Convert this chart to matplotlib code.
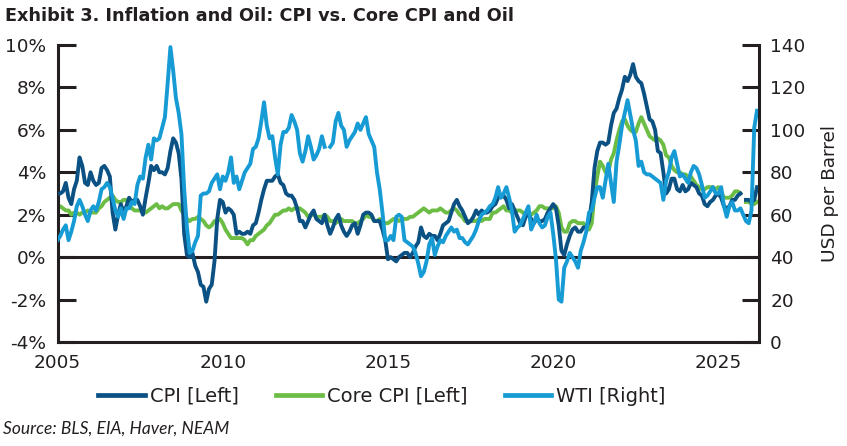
import numpy as np
import matplotlib
matplotlib.use("Agg")
import matplotlib.pyplot as plt
from matplotlib.lines import Line2D

nan = np.nan

# monthly observations, Jan 2005 .. Mar 2026
start_year = 2005

cpi = [
    3.0, 3.0, 3.1, 3.5, 2.8, 2.5, 3.2, 3.6, 4.7, 4.3, 3.5, 3.4,   # 2005
    4.0, 3.6, 3.4, 3.5, 4.2, 4.3, 4.1, 3.8, 2.1, 1.3, 2.0, 2.5,   # 2006
    2.1, 2.4, 2.8, 2.6, 2.7, 2.7, 2.4, 2.0, 2.8, 3.5, 4.3, 4.1,   # 2007
    4.3, 4.0, 4.0, 3.9, 4.2, 5.0, 5.6, 5.4, 4.9, 3.7, 1.1, 0.1,   # 2008
    0.0, 0.2, -0.4, -0.7, -1.3, -1.4, -2.1, -1.5, -1.3, -0.2, 1.8, 2.7,  # 2009
    2.6, 2.1, 2.3, 2.2, 2.0, 1.1, 1.2, 1.1, 1.1, 1.2, 1.1, 1.5,   # 2010
    1.6, 2.1, 2.7, 3.2, 3.6, 3.6, 3.6, 3.8, 3.9, 3.5, 3.4, 3.0,   # 2011
    2.9, 2.9, 2.7, 2.3, 1.7, 1.7, 1.4, 1.7, 2.0, 2.2, 1.8, 1.7,   # 2012
    1.6, 2.0, 1.5, 1.1, 1.4, 1.8, 2.0, 1.5, 1.2, 1.0, 1.2, 1.5,   # 2013
    1.6, 1.1, 1.5, 2.0, 2.1, 2.1, 2.0, 1.7, 1.7, 1.7, 1.3, 0.8,   # 2014
    -0.1, 0.0, -0.1, -0.2, 0.0, 0.1, 0.2, 0.2, 0.0, 0.2, 0.5, 0.7,  # 2015
    1.4, 1.0, 0.9, 1.1, 1.0, 1.0, 0.8, 1.1, 1.5, 1.6, 1.7, 2.1,   # 2016
    2.5, 2.7, 2.4, 2.2, 1.9, 1.6, 1.7, 1.9, 2.2, 2.0, 2.2, 2.1,   # 2017
    2.1, 2.2, 2.4, 2.5, 2.8, 2.9, 2.9, 2.7, 2.3, 2.5, 2.2, 1.9,   # 2018
    1.6, 1.5, 1.9, 2.0, 1.8, 1.6, 1.8, 1.7, 1.7, 1.8, 2.1, 2.3,   # 2019
    2.5, 2.3, 1.5, 0.3, 0.1, 0.6, 1.0, 1.3, 1.4, 1.2, 1.2, 1.4,   # 2020
    1.4, 1.7, 2.6, 4.2, 5.0, 5.4, 5.4, 5.3, 5.4, 6.2, 6.8, 7.0,   # 2021
    7.5, 7.9, 8.5, 8.3, 8.6, 9.1, 8.5, 8.3, 8.2, 7.7, 7.1, 6.5,   # 2022
    6.4, 6.0, 5.0, 4.9, 4.0, 3.0, 3.2, 3.7, 3.7, 3.2, 3.1, 3.4,   # 2023
    3.1, 3.2, 3.5, 3.4, 3.3, 3.0, 2.9, 2.5, 2.4, 2.6, 2.7, 2.9,   # 2024
    3.0, 2.8, 2.4, 2.3, 2.4, 2.7, 2.7, 2.9, 3.0, nan, 2.7, 2.7,   # 2025
    2.6, 2.7, 3.3,                                                # 2026
]

core_cpi = [
    2.3, 2.4, 2.3, 2.2, 2.2, 2.0, 2.1, 2.1, 2.0, 2.1, 2.1, 2.2,   # 2005
    2.1, 2.1, 2.1, 2.3, 2.4, 2.6, 2.7, 2.8, 2.9, 2.7, 2.6, 2.6,   # 2006
    2.7, 2.7, 2.5, 2.3, 2.2, 2.2, 2.2, 2.1, 2.1, 2.2, 2.3, 2.4,   # 2007
    2.5, 2.3, 2.4, 2.3, 2.3, 2.4, 2.5, 2.5, 2.5, 2.2, 2.0, 1.8,   # 2008
    1.7, 1.8, 1.8, 1.9, 1.8, 1.7, 1.5, 1.4, 1.5, 1.7, 1.7, 1.8,   # 2009
    1.6, 1.3, 1.1, 0.9, 0.9, 0.9, 0.9, 0.9, 0.8, 0.6, 0.8, 0.8,   # 2010
    1.0, 1.1, 1.2, 1.3, 1.5, 1.6, 1.8, 2.0, 2.0, 2.1, 2.2, 2.2,   # 2011
    2.3, 2.2, 2.3, 2.3, 2.3, 2.2, 2.1, 1.9, 2.0, 2.0, 1.9, 1.9,   # 2012
    1.9, 2.0, 1.9, 1.7, 1.7, 1.6, 1.7, 1.8, 1.7, 1.7, 1.7, 1.7,   # 2013
    1.6, 1.6, 1.7, 1.8, 2.0, 1.9, 1.9, 1.7, 1.7, 1.8, 1.7, 1.6,   # 2014
    1.6, 1.7, 1.8, 1.8, 1.7, 1.8, 1.8, 1.8, 1.9, 1.9, 2.0, 2.1,   # 2015
    2.2, 2.3, 2.2, 2.1, 2.2, 2.2, 2.2, 2.3, 2.2, 2.1, 2.1, 2.2,   # 2016
    2.3, 2.2, 2.0, 1.9, 1.7, 1.7, 1.7, 1.7, 1.7, 1.8, 1.7, 1.8,   # 2017
    1.8, 1.8, 2.1, 2.1, 2.2, 2.3, 2.4, 2.2, 2.2, 2.1, 2.2, 2.2,   # 2018
    2.2, 2.1, 2.0, 2.1, 2.0, 2.1, 2.2, 2.4, 2.4, 2.3, 2.3, 2.3,   # 2019
    2.3, 2.4, 2.1, 1.4, 1.2, 1.2, 1.6, 1.7, 1.7, 1.6, 1.6, 1.6,   # 2020
    1.4, 1.3, 1.6, 3.0, 3.8, 4.5, 4.3, 4.0, 4.0, 4.6, 4.9, 5.5,   # 2021
    6.0, 6.4, 6.5, 6.2, 6.0, 5.9, 5.9, 6.3, 6.6, 6.3, 6.0, 5.7,   # 2022
    5.6, 5.5, 5.6, 5.5, 5.3, 4.8, 4.7, 4.3, 4.1, 4.0, 4.0, 3.9,   # 2023
    3.9, 3.8, 3.8, 3.6, 3.4, 3.3, 3.2, 3.2, 3.3, 3.3, 3.3, 3.2,   # 2024
    3.3, 3.1, 2.8, 2.8, 2.8, 2.9, 3.1, 3.1, 3.0, nan, 2.6, 2.6,   # 2025
    2.5, 2.5, 2.6,                                                # 2026
]

wti = [
    48, 50, 53, 55, 48, 52, 57, 64, 67, 64, 60, 57,              # 2005
    62, 64, 62, 66, 72, 73, 75, 73, 68, 62, 59, 63,              # 2006
    58, 63, 63, 66, 65, 74, 78, 77, 87, 93, 86, 96,              # 2007
    95, 96, 101, 106, 122, 139, 128, 115, 108, 98, 72, 54,       # 2008
    42, 43, 47, 50, 69, 70, 70, 71, 75, 77, 79, 72,              # 2009
    78, 76, 80, 87, 75, 78, 72, 76, 80, 82, 84, 91,              # 2010
    92, 96, 104, 113, 102, 96, 97, 87, 79, 93, 99, 99,           # 2011
    101, 107, 104, 100, 89, 85, 90, 97, 92, 86, 88, 91,          # 2012
    97, 92, nan, 92, 94, 104, 108, 102, 100, 92, 95, 97,         # 2013
    99, 103, 100, 103, 106, 98, 95, 92, 80, 72, 61, 48,          # 2014
    48, 50, 48, 59, 60, 59, 48, 47, 46, 45, 42, 37,              # 2015
    31, 33, 38, 46, 49, 41, 45, 48, 47, 50, 52, 54,              # 2016
    52, 53, 49, 49, 47, 46, 48, 50, 53, 57, 60, 61,              # 2017
    62, 64, 65, 68, 73, 68, 70, 73, 68, 62, 52, 54,              # 2018
    55, 58, 61, 64, 53, 56, 60, 56, 54, 55, 59, 61,              # 2019
    51, 39, 20, 19, 35, 38, 42, 40, 38, 35, 43, 47,              # 2020
    52, 61, 62, 68, 73, 73, 68, 76, 84, 75, 66, 85,              # 2021
    93, 102, 108, 114, 107, 100, 95, 83, 85, 80, 79, 79,         # 2022
    78, 77, 76, 75, 67, 76, 80, 87, 90, 84, 78, 79,              # 2023
    77, 75, 80, 83, 82, 79, 74, 68, 69, 71, 73, 70,              # 2024
    70, 73, 64, 59, 64, 66, 62, 62, 63, 60, 57, 56,              # 2025
    62, 101, 109,                                                # 2026
]

left_ticks = [-4, -2, 0, 2, 4, 6, 8, 10]
right_ticks = [0, 20, 40, 60, 80, 100, 120, 140]
year_ticks = [2005, 2010, 2015, 2020, 2025]

DARK = "#231f20"
CPI_COLOR = "#0b5184"
CORE_COLOR = "#6cbd45"
WTI_COLOR = "#169bd5"
TXT = "DejaVu Sans"

x = start_year + np.arange(len(cpi)) / 12.0

fig = plt.figure(figsize=(8.47, 4.46), dpi=100)
ax = fig.add_axes([0.0679, 0.2332, 0.8283, 0.6659])
ax2 = ax.twinx()

ax.axhline(0, color=DARK, lw=2.2, zorder=1)
ax.plot(x, core_cpi, color=CORE_COLOR, lw=2.8, zorder=2)
ax.plot(x, cpi, color=CPI_COLOR, lw=2.8, zorder=3)
ax2.plot(x, wti, color=WTI_COLOR, lw=2.8)

ax.set_xlim(2005, 2026.23)
ax.set_ylim(-4, 10)
ax2.set_ylim(0, 140)

ax.set_yticks(left_ticks)
ax.set_yticklabels([f"{v}%" for v in left_ticks])
ax2.set_yticks(right_ticks)
ax2.set_yticklabels([str(v) for v in right_ticks])
ax.set_xticks(year_ticks)
ax.set_xticklabels([str(v) for v in year_ticks])

for a in (ax, ax2):
    a.spines["top"].set_visible(False)
    for s in a.spines.values():
        s.set_linewidth(2.2)
        s.set_color(DARK)
ax.spines["right"].set_visible(False)
ax2.spines["left"].set_visible(False)
ax2.spines["bottom"].set_visible(False)

ax.tick_params(axis="y", direction="in", length=13, width=2.2, color=DARK,
               pad=8, labelsize=13.3, labelcolor=DARK)
ax.tick_params(axis="x", length=0, pad=9, labelsize=13.3, labelcolor=DARK)
ax2.tick_params(axis="y", direction="in", length=12, width=2.2, color=DARK,
                pad=8, labelsize=13.3, labelcolor=DARK)
for lab in ax.get_xticklabels() + ax.get_yticklabels() + ax2.get_yticklabels():
    lab.set_family(TXT)

ax2.set_ylabel("USD per Barrel", fontsize=13.3, family=TXT, color=DARK, labelpad=11)

fig.text(0.006, 0.964, "Exhibit 3. Inflation and Oil: CPI vs. Core CPI and Oil",
         fontsize=12.7, fontweight="bold", family=TXT, color=DARK, va="center")
fig.text(0.004, 0.04, "Source: BLS, EIA, Haver, NEAM", fontsize=12.5,
         style="italic", family="Lato", color=DARK, va="center")

handles = [Line2D([], [], color=CPI_COLOR, lw=3.4),
           Line2D([], [], color=CORE_COLOR, lw=3.4),
           Line2D([], [], color=WTI_COLOR, lw=3.4)]
fig.legend(handles, ["CPI [Left]", "Core CPI [Left]", "WTI [Right]"],
           loc="center", bbox_to_anchor=(0.451, 0.112), ncol=3, frameon=False,
           handlelength=2.4, handletextpad=0.25, columnspacing=1.9,
           prop={"family": TXT, "size": 14}, labelcolor=DARK)

fig.savefig("out.png", dpi=100)
